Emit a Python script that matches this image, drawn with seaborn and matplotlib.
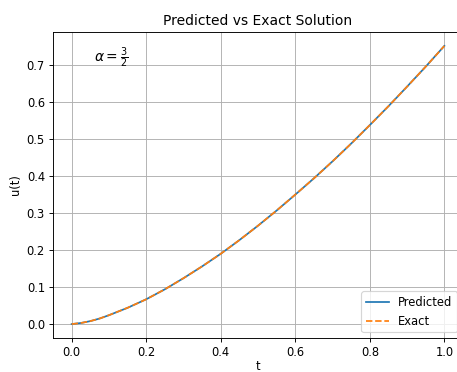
import matplotlib
matplotlib.use("Agg")
import matplotlib.pyplot as plt
import seaborn as sns
import pandas as pd

# Solution samples on t in [0, 1]
t_values = [0.000, 0.025, 0.050, 0.075, 0.100, 0.150, 0.200, 0.250, 0.300, 0.350, 0.400,
            0.450, 0.500, 0.550, 0.600, 0.650, 0.700, 0.750, 0.800, 0.850, 0.900, 0.950, 1.000]
u_predicted = [0.000, 0.003, 0.008, 0.015, 0.024, 0.044, 0.067, 0.094, 0.124, 0.156, 0.190,
               0.227, 0.266, 0.307, 0.350, 0.394, 0.440, 0.488, 0.538, 0.589, 0.642, 0.696, 0.752]
u_exact = [0.000, 0.003, 0.008, 0.015, 0.024, 0.044, 0.067, 0.094, 0.124, 0.156, 0.190,
           0.227, 0.266, 0.307, 0.350, 0.394, 0.440, 0.488, 0.538, 0.589, 0.642, 0.696, 0.752]

df = pd.DataFrame({"t": t_values, "Predicted": u_predicted, "Exact": u_exact})

dpi = 83
fig = plt.figure(figsize=(457 / dpi, 372 / dpi), dpi=dpi)
W, H = 457, 372
ax = fig.add_axes([53 / W, (H - 338) / H, (463 - 53) / W, (338 - 32) / H])

sns.lineplot(data=df, x="t", y="Predicted", ax=ax, color="C0", label="Predicted", linewidth=1.5)
sns.lineplot(data=df, x="t", y="Exact", ax=ax, color="C1", linestyle="--", label="Exact", linewidth=1.5)

ax.set_title("Predicted vs Exact Solution", fontsize=12)
ax.set_xlabel("t", labelpad=1)
ax.set_ylabel("u(t)")
ax.grid(True)
ax.legend(loc="lower right")
ax.text(0.1, 0.9, r"$\alpha = \frac{3}{2}$", transform=ax.transAxes, fontsize=12)

fig.savefig("out.png", dpi=dpi)
